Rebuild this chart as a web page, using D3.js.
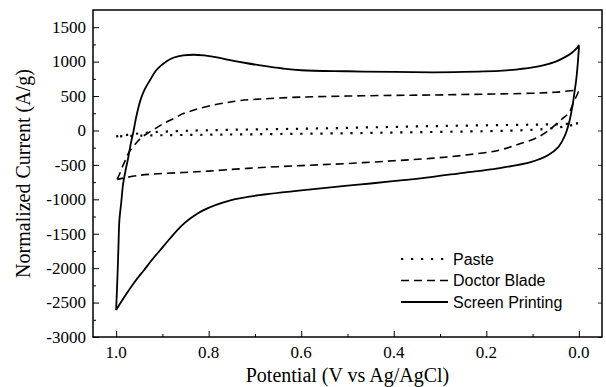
<!DOCTYPE html>
<html lang="en">
<head>
  <meta charset="UTF-8">
  <title>Cyclic Voltammetry</title>
  <script src="https://d3js.org/d3.v7.min.js"></script>
  <style>
    body { margin: 0; background: #fff; }
  </style>
</head>
<body>
  <div id="chart"></div>
  <script>
    // Paste (dotted) loop
    const pasteX = [1.0, 0.96, 0.92, 0.85, 0.75, 0.6, 0.45, 0.3, 0.15, 0.05, 0.0,
                    0.03, 0.06, 0.1, 0.2, 0.35, 0.5, 0.7, 0.85, 0.95, 1.0];
    const pasteY = [-87, -50, -25, -5, 10, 25, 45, 65, 80, 90, 100,
                    60, 30, 10, -10, -25, -40, -55, -65, -75, -87];

    // Doctor Blade (dashed) loop
    const bladeX = [0.998, 0.993, 0.987, 0.98, 0.974, 0.965, 0.955, 0.945, 0.933, 0.915, 0.898, 0.875,
                    0.855, 0.83, 0.797, 0.76, 0.732, 0.68, 0.6, 0.5, 0.4, 0.32, 0.2, 0.104, 0.05, 0.002,
                    0.005, 0.01, 0.021, 0.035, 0.06, 0.089, 0.126, 0.175, 0.249, 0.32, 0.4, 0.5, 0.6,
                    0.716, 0.8, 0.855, 0.948, 0.998];
    const bladeY = [-710, -640, -535, -430, -335, -250, -170, -100, -45, 30, 100, 175,
                    245, 300, 360, 405, 435, 460, 485, 500, 510, 515, 528, 540, 555, 570,
                    500, 435, 260, 175, 30, -100, -190, -290, -360, -405, -440, -480, -510,
                    -550, -590, -610, -650, -710];

    // Screen Printing (solid) loop
    const screenX = [1.0, 0.997, 0.995, 0.993, 0.989, 0.985, 0.979, 0.974, 0.968, 0.963, 0.958, 0.952,
                     0.946, 0.938, 0.926, 0.915, 0.905, 0.89, 0.875, 0.855, 0.833, 0.81, 0.785, 0.76,
                     0.72, 0.688, 0.64, 0.6, 0.5, 0.4, 0.314, 0.25, 0.206, 0.165, 0.132, 0.1, 0.075,
                     0.05, 0.03, 0.015, 0.004, 0.0,
                     0.001, 0.003, 0.006, 0.009, 0.013, 0.02, 0.026, 0.032, 0.045, 0.067, 0.104, 0.175,
                     0.25, 0.32, 0.385, 0.45, 0.5, 0.6, 0.68, 0.753, 0.812, 0.84, 0.861, 0.885, 0.905,
                     0.925, 0.94, 0.96, 0.977, 0.99, 1.0];
    const screenY = [-2610, -2100, -1690, -1305, -1050, -780, -560, -400, -180, -30, 150, 330,
                     470, 600, 740, 860, 930, 1010, 1060, 1090, 1100, 1090, 1065, 1030,
                     980, 945, 900, 875, 860, 850, 845, 850, 858, 870, 888, 915, 950,
                     1000, 1065, 1130, 1200, 1235,
                     1100, 920, 720, 580, 390, 145, 0, -100, -245, -360, -460, -550,
                     -615, -677, -725, -770, -800, -870, -930, -1015, -1160, -1280, -1400, -1580, -1740,
                     -1900, -2030, -2200, -2365, -2500, -2610];

    const seriesNames = ["Paste", "Doctor Blade", "Screen Printing"];
    const xTicks = [1.0, 0.8, 0.6, 0.4, 0.2, 0.0];
    const yTicks = [1500, 1000, 500, 0, -500, -1000, -1500, -2000, -2500, -3000];

    const W = 606, H = 387;
    const margin = { top: 10, right: 4, bottom: 50, left: 93 };
    const width = W - margin.left - margin.right;
    const height = H - margin.top - margin.bottom;
    const serif = "Liberation Serif, Times New Roman, serif";

    const svg = d3.select("#chart").append("svg")
      .attr("width", W)
      .attr("height", H);

    const g = svg.append("g").attr("transform", `translate(${margin.left},${margin.top})`);

    const x = d3.scaleLinear().domain([1.05, -0.05]).range([0, width]);
    const y = d3.scaleLinear().domain([-3000, 1750]).range([height, 0]);

    // minor ticks (every 0.1 V and 250 A/g)
    const xMinor = d3.range(0, 11).map(i => i / 10).filter(v => !xTicks.some(t => Math.abs(t - v) < 1e-6));
    const yMinor = d3.range(-2750, 1750, 500);

    g.append("g").attr("transform", `translate(0,${height})`)
      .call(d3.axisBottom(x).tickValues(xMinor).tickSize(-3).tickFormat(""))
      .call(a => a.select(".domain").remove());
    g.append("g")
      .call(d3.axisLeft(y).tickValues(yMinor).tickSize(-3).tickFormat(""))
      .call(a => a.select(".domain").remove());

    // major ticks pointing inward (labels drawn separately below)
    g.append("g").attr("transform", `translate(0,${height})`)
      .call(d3.axisBottom(x).tickValues(xTicks).tickSize(-6).tickFormat(""))
      .call(a => a.select(".domain").remove());
    g.append("g")
      .call(d3.axisLeft(y).tickValues(yTicks).tickSize(-6).tickFormat(""))
      .call(a => a.select(".domain").remove());
    g.append("g").attr("transform", `translate(${width},0)`)
      .call(d3.axisRight(y).tickValues(yTicks).tickSize(-4).tickFormat(""))
      .call(a => a.select(".domain").remove())
      .selectAll("line").attr("stroke-width", 0.8);

    g.selectAll(".tick line").attr("stroke", "#000");

    // tick labels in serif
    g.append("g").selectAll("text")
      .data(xTicks)
      .join("text")
      .attr("x", d => x(d))
      .attr("y", height + 21)
      .attr("text-anchor", "middle")
      .attr("font-family", serif)
      .attr("font-size", 17)
      .text(d3.format(".1f"));

    g.append("g").selectAll("text")
      .data(yTicks)
      .join("text")
      .attr("x", -7)
      .attr("y", d => y(d))
      .attr("dy", "0.34em")
      .attr("text-anchor", "end")
      .attr("font-family", serif)
      .attr("font-size", 17)
      .text(d => d < 0 ? "-" + Math.abs(d) : d);

    // frame
    g.append("rect")
      .attr("width", width).attr("height", height)
      .attr("fill", "none").attr("stroke", "#000").attr("stroke-width", 1.5);

    const line = d3.line()
      .x(d => x(d[0]))
      .y(d => y(d[1]))
      .curve(d3.curveCatmullRom.alpha(0.5));

    const styles = [
      { dash: "2.2,7.8", w: 2.2 },
      { dash: "8,5", w: 1.6 },
      { dash: null, w: 1.8 }
    ];
    const series = [
      d3.zip(pasteX, pasteY),
      d3.zip(bladeX, bladeY),
      d3.zip(screenX, screenY)
    ];

    series.forEach((pts, i) => {
      g.append("path")
        .datum(pts)
        .attr("fill", "none")
        .attr("stroke", "#000")
        .attr("stroke-width", styles[i].w)
        .attr("stroke-dasharray", styles[i].dash)
        .attr("d", line);
    });

    // legend
    const legend = svg.append("g").attr("transform", "translate(401,259)");
    seriesNames.forEach((name, i) => {
      const row = legend.append("g").attr("transform", `translate(0,${i * 21.5})`);
      row.append("line")
        .attr("x1", 0).attr("x2", 47)
        .attr("stroke", "#000")
        .attr("stroke-width", styles[i].w)
        .attr("stroke-dasharray", styles[i].dash);
      row.append("text")
        .attr("x", 52).attr("y", 5.5)
        .attr("font-family", "Liberation Sans, Arial, sans-serif")
        .attr("font-size", 16)
        .text(name);
    });

    // axis titles
    svg.append("text")
      .attr("x", margin.left + width / 2).attr("y", 382)
      .attr("text-anchor", "middle")
      .attr("font-family", serif)
      .attr("font-size", 20)
      .text("Potential (V vs Ag/AgCl)");

    svg.append("text")
      .attr("transform", `translate(30,${margin.top + height / 2}) rotate(-90)`)
      .attr("text-anchor", "middle")
      .attr("font-family", serif)
      .attr("font-size", 20)
      .text("Normalized Current (A/g)");
  </script>
</body>
</html>
